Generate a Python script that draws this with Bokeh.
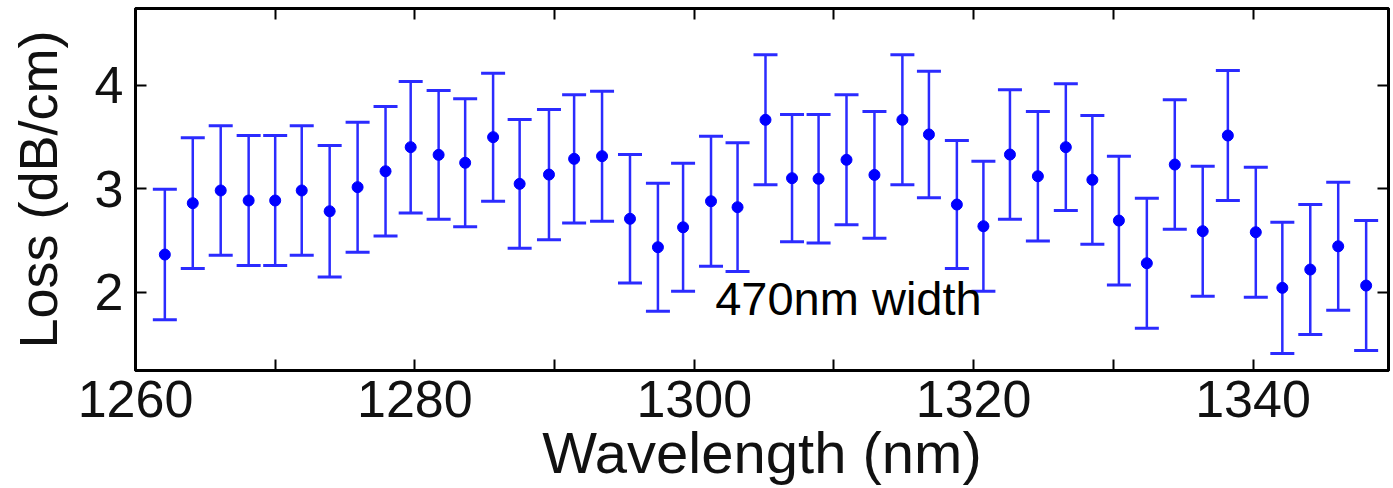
from bokeh.plotting import figure
from bokeh.models import (ColumnDataSource, Whisker, TeeHead, LinearAxis,
                          FixedTicker, Range1d, Label)
from bokeh.embed import file_html
from bokeh.resources import INLINE

# ---- data ----
wavelength = [1262.1, 1264.1, 1266.1, 1268.1, 1270.0, 1271.9, 1273.9, 1275.9,
              1277.9, 1279.7, 1281.7, 1283.6, 1285.6, 1287.5, 1289.6, 1291.4,
              1293.4, 1295.4, 1297.4, 1299.2, 1301.2, 1303.1, 1305.1, 1307.0,
              1308.9, 1310.9, 1312.9, 1314.9, 1316.8, 1318.8, 1320.7, 1322.6,
              1324.6, 1326.6, 1328.5, 1330.4, 1332.4, 1334.4, 1336.4, 1338.2,
              1340.2, 1342.1, 1344.1, 1346.1, 1348.1]
loss = [2.364, 2.861, 2.984, 2.887, 2.887, 2.984, 2.783, 3.016,
        3.170, 3.403, 3.329, 3.252, 3.500, 3.048, 3.138, 3.290,
        3.316, 2.710, 2.435, 2.628, 2.880, 2.822, 3.668, 3.103,
        3.097, 3.281, 3.135, 3.668, 3.526, 2.848, 2.638, 3.332,
        3.122, 3.403, 3.087, 2.693, 2.280, 3.235, 2.590, 3.516,
        2.580, 2.042, 2.219, 2.444, 2.064]
loss_err = [0.632, 0.633, 0.626, 0.629, 0.629, 0.626, 0.636, 0.629,
            0.627, 0.636, 0.623, 0.619, 0.619, 0.623, 0.630, 0.620,
            0.629, 0.622, 0.619, 0.620, 0.629, 0.623, 0.629, 0.616,
            0.622, 0.629, 0.613, 0.629, 0.612, 0.620, 0.629, 0.626,
            0.626, 0.613, 0.623, 0.623, 0.629, 0.627, 0.629, 0.629,
            0.629, 0.635, 0.629, 0.620, 0.629]
x_major_ticks = [1260, 1280, 1300, 1320, 1340]
x_minor_ticks = [1270, 1290, 1310, 1330]
y_ticks = [2, 3, 4]
x_label = "Wavelength (nm)"
y_label = "Loss (dB/cm)"
note_text = "470nm width"
note_x, note_y = 1301.5, 1.94

upper = [v + e for v, e in zip(loss, loss_err)]
lower = [v - e for v, e in zip(loss, loss_err)]
src = ColumnDataSource(dict(x=wavelength, y=loss, upper=upper, lower=lower))

FONT = "Liberation Sans"
BLUE = "#0000ff"

p = figure(width=1393, height=488, output_backend="svg", toolbar_location=None,
           x_range=Range1d(1260, 1349.7), y_range=Range1d(1.242, 4.745),
           min_border_left=135, min_border_right=5, min_border_top=8,
           min_border_bottom=118,
           x_axis_label=x_label, y_axis_label=y_label)
p.grid.visible = False
p.outline_line_color = "black"
p.outline_line_width = 3
p.background_fill_color = "white"
p.border_fill_color = "white"

xt = FixedTicker(ticks=x_major_ticks, minor_ticks=x_minor_ticks)
yt = FixedTicker(ticks=y_ticks, minor_ticks=[])


def style(ax, labels=True):
    ax.axis_line_color = "black"
    ax.axis_line_width = 3
    ax.major_tick_in = 11
    ax.major_tick_out = 0
    ax.minor_tick_in = 11
    ax.minor_tick_out = 0
    ax.major_tick_line_width = 2
    ax.minor_tick_line_width = 2
    ax.major_tick_line_color = "black"
    ax.minor_tick_line_color = "black"
    if labels:
        ax.major_label_text_font = FONT
        ax.major_label_text_font_size = "52px"
        ax.major_label_text_color = "#111111"
        ax.axis_label_text_font = FONT
        ax.axis_label_text_font_style = "normal"
        ax.axis_label_text_color = "#111111"
    else:
        ax.major_label_text_font_size = "0px"
        ax.major_label_text_color = None
        ax.major_label_standoff = 0


xa = p.xaxis[0]
xa.ticker = xt
style(xa)
xa.major_label_standoff = 10
xa.axis_label_text_font_size = "58px"
xa.axis_label_standoff = 0

ya = p.yaxis[0]
ya.ticker = yt
style(ya)
ya.major_label_standoff = 12
ya.axis_label_text_font_size = "54px"
ya.axis_label_standoff = 24

top = LinearAxis(ticker=FixedTicker(ticks=x_major_ticks, minor_ticks=x_minor_ticks))
style(top, labels=False)
p.add_layout(top, "above")
right = LinearAxis(ticker=FixedTicker(ticks=y_ticks, minor_ticks=[]))
style(right, labels=False)
p.add_layout(right, "right")

p.add_layout(Whisker(base="x", upper="upper", lower="lower", source=src,
                     line_color="#2b2bff", line_width=2.5,
                     upper_head=TeeHead(size=24, line_color="#2b2bff", line_width=3),
                     lower_head=TeeHead(size=24, line_color="#2b2bff", line_width=3)))
p.scatter("x", "y", source=src, size=11, color=BLUE)

p.add_layout(Label(x=note_x, y=note_y, text=note_text, text_font=FONT,
                   text_font_size="47px", text_color="black",
                   text_align="left", text_baseline="alphabetic"))

open("out.html", "w").write(file_html(p, INLINE))
